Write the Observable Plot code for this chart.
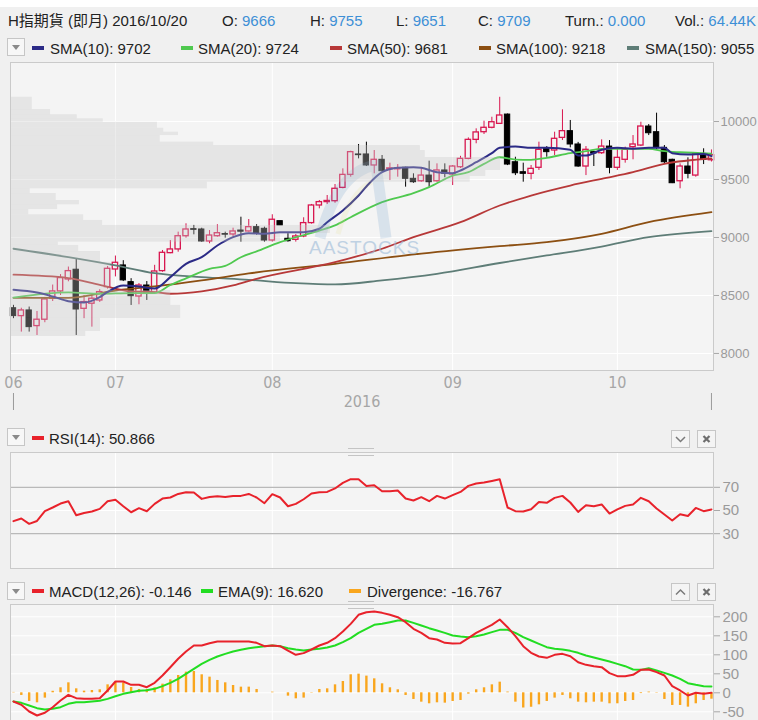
<!DOCTYPE html>
<html><head><meta charset="utf-8">
<script src="https://cdn.jsdelivr.net/npm/d3@7"></script>
<script src="https://cdn.jsdelivr.net/npm/@observablehq/plot@0.6"></script>
<style>
body{margin:0;background:#f0f0f0;}
#root{position:relative;width:758px;height:720px;overflow:hidden;background:#f0f0f0;font-family:"Liberation Sans",Arial,"Noto Sans CJK TC",sans-serif;}
.abs{position:absolute;}
.t{position:absolute;font-size:15px;line-height:15px;color:#222;white-space:nowrap;}
.v{color:#3d8fd6;}
.dash{position:absolute;width:12px;height:4px;}
.dd{position:absolute;width:16px;height:16px;border:1px solid #c6c6c6;background:#f7f7f7;}
.dd:after{content:"";position:absolute;left:4px;top:6px;border-left:4px solid transparent;border-right:4px solid transparent;border-top:5px solid #8a8a8a;}
.btn{position:absolute;width:17px;height:16px;border:1px solid #c6c6c6;background:#f4f4f4;}
.hl{position:absolute;width:26px;height:1px;background:#c4c4c4;}
svg{display:block;}
</style></head>
<body><div id="root"></div>
<script>
// ---------- data ----------
const monthIdx = [0, 13, 33, 56, 77];
const monthLabels = ["06", "07", "08", "09", "10"];
const yearSpan = [0, 89];
const yearLabel = ["2016"];
const priceTicks = [8000, 8500, 9000, 9500, 10000];
const rsiTicks = [30, 50, 70];
const rsiLevels = [30, 70];
const macdTicks = [-50, 0, 50, 100, 150, 200];

const open = [8390,8322,8371,8236,8291,8472,8535,8638,8722,8385,8429,8457,8572,8724,8759,8615,8491,8586,8523,8710,
  8865,8897,9011,9072,9069,8966,9011,9030,9026,9060,9052,9089,9075,8974,9141,8989,8980,9009,9124,9276,
  9305,9313,9428,9540,9716,9716,9621,9670,9588,9588,9601,9506,9485,9534,9485,9578,9543,9606,9678,9842,
  9908,9946,9980,10060,9649,9563,9549,9601,9765,9750,9859,9917,9802,9612,9736,9727,9784,9601,9670,9779,
  9793,9957,9908,9773,9670,9485,9612,9534,9721,9666];
const high = [8415,8390,8400,8362,8483,8590,8680,8745,8816,8500,8500,8550,8750,8840,8800,8645,8603,8620,8760,8888,
  8974,9046,9118,9104,9080,9060,9110,9046,9080,9175,9155,9110,9089,9196,9141,9032,9026,9170,9285,9319,
  9362,9457,9592,9744,9802,9822,9750,9707,9641,9629,9606,9549,9601,9658,9635,9635,9621,9700,9859,9937,
  10003,10037,10209,10065,9692,9641,9621,9822,9784,9908,10101,10009,9820,9784,9744,9842,9836,9773,9779,9879,
  9994,9974,10072,9793,9675,9635,9687,9727,9765,9755];
const low = [8300,8184,8184,8155,8265,8448,8500,8618,8155,8300,8227,8440,8555,8660,8620,8414,8420,8457,8515,8700,
  8860,8873,8994,9023,8960,8946,9003,8994,9003,8960,9046,9020,8960,8960,9104,8960,8960,8998,9115,9247,
  9285,9296,9420,9520,9678,9612,9549,9563,9491,9520,9434,9468,9477,9434,9477,9515,9448,9595,9670,9808,
  9888,9937,9975,9620,9534,9477,9497,9578,9692,9707,9836,9773,9605,9534,9612,9716,9549,9578,9641,9670,
  9784,9879,9750,9629,9465,9420,9506,9520,9629,9651];
const close = [8322,8371,8227,8291,8466,8535,8650,8710,8379,8443,8472,8529,8730,8782,8630,8494,8586,8523,8707,8868,
  8897,9011,9069,9066,8966,9017,9037,9024,9052,9050,9089,9032,8974,9153,9104,8968,9009,9124,9276,9305,
  9315,9420,9540,9736,9710,9621,9670,9572,9596,9595,9506,9477,9534,9477,9578,9549,9612,9678,9842,9906,
  9946,9994,10052,9629,9554,9549,9592,9756,9736,9851,9917,9802,9612,9756,9724,9784,9601,9687,9756,9802,
  9957,9899,9773,9649,9468,9612,9549,9721,9670,9709];

const sma10Idx = [0,3,5,7,9,11,12,14,16,18,20,22,24,26,28,30,32,34,37,39,40,42,44,45,47,49,51,52,54,56,57,59,61,62,64,66,68,71,72,73,75,77,79,81,83,84,86,88,89];
const sma10 = [8549,8525,8491,8451,8440,8486,8530,8586,8578,8560,8658,8773,8830,8931,9003,9037,9032,9046,9046,9075,9132,9233,9362,9440,9563,9601,9606,9601,9563,9554,9578,9649,9727,9773,9784,9773,9773,9756,9707,9707,9756,9773,9765,9773,9773,9727,9716,9721,9702];
const sma20Idx = [0,7,11,15,18,20,22,25,27,29,31,34,39,41,43,47,51,53,56,58,60,62,64,66,68,71,73,75,79,81,83,85,89];
const sma20 = [8482,8527,8515,8520,8520,8590,8648,8730,8755,8830,8880,8960,9060,9104,9175,9305,9382,9434,9534,9563,9635,9692,9672,9670,9687,9727,9744,9765,9765,9765,9744,9735,9724];
const sma50Idx = [0,7,11,15,18,20,24,28,31,41,47,51,57,62,66,71,75,79,83,89];
const sma50 = [8679,8650,8592,8535,8529,8515,8535,8586,8644,8787,8903,9003,9132,9276,9362,9448,9506,9563,9635,9681];
const sma100Idx = [0,7,13,18,24,30,41,52,62,68,75,81,89];
const sma100 = [8480,8480,8543,8578,8630,8690,8773,8860,8925,8960,9032,9132,9218];
const sma150Idx = [0,7,13,18,24,30,36,41,47,54,62,68,75,81,89];
const sma150 = [8903,8830,8759,8692,8658,8635,8606,8595,8630,8687,8780,8845,8922,9003,9055];

// price-by-volume profile (price band low/high, relative volume 0-100)
const profLo  = [8147,8190,8302,8414,8543,8785,8879,8931,8960,9035,9104,9147,9196,9241,9282,9319,9379,9420,9477,9526,9578,9690,9750,9793,9822,9879,9908,9942,9994,10023,10058,10103];
const profHi  = [8190,8302,8414,8543,8785,8879,8931,8960,9035,9104,9147,9196,9241,9282,9319,9379,9420,9477,9526,9578,9690,9750,9793,9822,9879,9908,9942,9994,10023,10058,10103,10209];
const profVol = [10.7,12.8,24.2,22.8,14.2,12.8,9.7,6.8,38.4,45.5,13.1,10.4,2.6,6.7,9.8,6.5,2.8,28,65.4,67.6,69.7,59,58.3,28.9,21.3,23.9,21.8,20.9,13.2,9.5,5.7,3.1];

const rsi = [40.8,43.1,38.5,41.0,49.4,52.6,56.0,58.0,45.9,47.9,49.1,51.4,58.0,59.2,53.7,48.5,52.0,49.4,55.7,60.3,
  61.2,64.3,65.8,65.5,60.0,61.7,62.3,61.7,62.6,62.6,64.3,61.2,56.3,64.1,61.2,53.7,55.7,59.7,64.7,65.8,
  66.0,69.0,73.8,77.0,77.0,71.2,71.8,66.6,66.6,67.2,60.3,58.6,61.5,58.0,62.6,60.3,63.2,66.0,71.2,73.3,
  74.1,75.5,77.0,52.6,49.4,49.1,51.1,57.4,56.6,60.9,62.6,56.9,48.8,54.6,53.7,55.2,47.4,50.9,54.0,55.2,
  60.9,58.0,51.7,46.6,41.4,46.8,45.3,52.2,49.4,50.9];
const macd = [-22.9,-31.6,-49.2,-59.7,-52.6,-37.9,-20.3,-5.3,-14.2,-15.8,-15.8,-14.2,6.1,29.7,29.7,21,21,14.8,26.3,45.5,
  67.4,89.5,108.7,124.5,124.5,130.6,135,135,135,135,135,131.6,122.8,124.5,122.8,111.3,100,104.4,114,124.5,
  131.6,143.8,161.3,181.5,205.3,212.1,214,210.4,205.3,199,185.9,168.3,157.8,143.8,140.3,131.5,129.7,130.6,143.8,157.8,
  168.3,178.9,192.9,172.7,149,122.7,105.2,95.5,92,99.9,102.5,96.4,80.6,73.6,70.1,67.5,51.7,43.8,43.8,47.3,
  60.4,61.3,54.3,45.5,17.5,6.1,-7.1,0,-2.6,-0.1];
const ema9 = [-22.9,-26.4,-33.4,-40.4,-43.9,-42.2,-37.8,-29.0,-24.6,-24.6,-22.9,-21.1,-15.9,-8.9,-2.7,1.7,5.2,6.9,10.4,17.5,
  26.2,36.8,49.9,63.1,76.2,86.8,95.5,102.5,108.7,113.1,117.5,120.1,122.7,124.5,122.7,117.5,114.0,111.3,114.0,115.7,
  119.2,124.5,133.2,143.8,157.8,168.3,178.9,181.5,185.9,190.3,190.3,184.1,177.1,170.1,163.9,157.8,150.8,148.2,146.4,149,
  153.4,159.6,165.7,165.7,157.8,146.4,137.6,128.9,120.1,115.7,114,110.4,105.2,98.2,92.9,87.6,82.4,76.2,70.1,61.3,
  60.4,64.8,58.7,52.5,45.5,36.8,25.3,21,17.5,16.6];
const divergence = [1,-7,-22.8,-26.3,-14,4,13.2,26.3,10.5,4.4,6.1,7.9,21,28,26.3,14,8.8,8.8,13.2,22.8,
  34.2,45.6,54.4,56.1,47.4,41.2,32.5,26.3,19.3,14.9,14.9,8.8,0,1.8,0,-8.8,-15.8,-14,-1,8.8,
  10.5,21,29.8,47.4,49.1,43.9,36.8,23.7,13.2,7.9,-7,-17.5,-24.6,-28.9,-26.3,-27.2,-22.8,-20.2,-3.5,7.9,
  13.2,21,28,2,-24.6,-40,-38,-31.6,-22.8,-14,-7,-15.8,-24.6,-26.3,-24.6,-24.6,-28.9,-28.9,-22.8,-20.2,
  -2,2,-1,-17.5,-33.3,-33.3,-37.7,-28.9,-20.2,-16.8];

// ---------- helpers ----------
const W = 758;
const XD = [-0.38, 89.26];
const ML = 10, MR = 45;
const BG = "#f4f4f4", GRID = "#ffffff", FRAME = "#cacaca";
const UP = "#d8164f", DOWN = "#000000";
const C = {s10:"#2b2a86", s20:"#4fc94f", s50:"#b73838", s100:"#8c4f12", s150:"#5e7d77",
           rsi:"#e8222b", macd:"#e8222b", ema:"#22dd22", div:"#f9a61e"};
const narrow = "'Liberation Sans Narrow','DejaVu Sans Condensed','Liberation Sans',sans-serif";
const sans = "'Liberation Sans',Arial,sans-serif";
const candles = open.map((o, i) => ({i, o, h: high[i], l: low[i], c: close[i]}));
const ups = candles.filter(d => d.c >= d.o), downs = candles.filter(d => d.c < d.o);
const series = (idx, vals) => idx.map((x, k) => ({x, y: vals[k]}));
const perBar = vals => vals.map((y, x) => ({x, y}));
const profile = profLo.map((lo, k) => ({lo, hi: profHi[k], vol: profVol[k]}));
const monthLab = new Map(monthIdx.map((d, k) => [d, monthLabels[k]]));
const gridMonths = monthIdx.slice(1);
const baseStyle = {background: "transparent", color: "#9a9a9a", fontFamily: sans, fontSize: "14px"};

const root = document.getElementById("root");
function place(el, top, left = 0) { el.style.position = "absolute"; el.style.top = top + "px"; el.style.left = left + "px"; root.appendChild(el); return el; }
function html(s) { const d = document.createElement("div"); d.innerHTML = s; while (d.firstChild) root.appendChild(d.firstChild); }
const yAxis = (ticks, size, len, pad) => Plot.axisY(ticks, {anchor: "right", label: null, tickSize: len, tickPadding: pad, tickFormat: d => String(d), stroke: "#a8a8a8", fill: "#9a9a9a", fontSize: size});

// ---------- main price panel ----------
const mainH = 340, mainTop = 55;
place(Plot.plot({
  width: W, height: mainH, marginTop: 7, marginBottom: 25, marginLeft: ML, marginRight: MR,
  style: baseStyle,
  x: {domain: XD, axis: null}, y: {domain: [7853, 10509], axis: null},
  color: {domain: ["up", "down"], range: [UP, DOWN]},
  marks: [
    Plot.frame({fill: BG, stroke: null}),
    Plot.gridY(priceTicks, {stroke: GRID, strokeOpacity: 1}),
    Plot.gridX(gridMonths, {stroke: GRID, strokeOpacity: 1}),
    yAxis(priceTicks, 13, 5, 2),
    Plot.axisX(monthIdx, {anchor: "bottom", label: null, tickSize: 0, tickPadding: 6, tickFormat: d => monthLab.get(d), fill: "#a6a6a6", fontSize: 16, fontFamily: narrow}),
    Plot.ruleX(candles, {x: "i", y1: "l", y2: "h", stroke: d => d.c >= d.o ? "up" : "down"}),
    Plot.rect(ups, {x1: d => d.i - 0.34, x2: d => d.i + 0.34, y1: "o", y2: "c", fill: BG, stroke: UP, strokeWidth: 1.3}),
    Plot.rect(downs, {x1: d => d.i - 0.34, x2: d => d.i + 0.34, y1: "o", y2: "c", fill: DOWN, stroke: DOWN, strokeWidth: 1}),
    Plot.line(series(sma150Idx, sma150), {x: "x", y: "y", stroke: C.s150, strokeWidth: 1.8, curve: "monotone-x"}),
    Plot.line(series(sma100Idx, sma100), {x: "x", y: "y", stroke: C.s100, strokeWidth: 1.8, curve: "monotone-x"}),
    Plot.line(series(sma50Idx, sma50), {x: "x", y: "y", stroke: C.s50, strokeWidth: 1.8, curve: "monotone-x"}),
    Plot.line(series(sma20Idx, sma20), {x: "x", y: "y", stroke: C.s20, strokeWidth: 1.8, curve: "monotone-x"}),
    Plot.line(series(sma10Idx, sma10), {x: "x", y: "y", stroke: C.s10, strokeWidth: 2, curve: "monotone-x"})
  ]
}), mainTop);

// watermark (faint logo shape + text)
html(`<svg class="abs" style="left:312px;top:160px;opacity:.2" width="84" height="80"><path d="M8,78 C18,40 34,10 64,5 L74,78" fill="none" stroke="#6f9cc8" stroke-width="11"/><path d="M26,74 C34,46 46,28 60,22" fill="none" stroke="#e6e29a" stroke-width="5"/></svg>
<div class="abs" style="left:309px;top:238px;font:19px ${sans};line-height:19px;letter-spacing:1px;color:#9dbbd8;opacity:.6">AASTOCKS</div>`);

// volume profile overlay (semi-transparent, over candles)
place(Plot.plot({
  width: W, height: mainH, marginTop: 7, marginBottom: 25, marginLeft: ML, marginRight: MR,
  style: baseStyle,
  x: {domain: [0, 100], axis: null}, y: {domain: [7853, 10509], axis: null},
  marks: [
    Plot.rectX(profile, {x: "vol", y1: "lo", y2: "hi", fill: "rgb(198,198,198)", fillOpacity: 0.34}),
    Plot.frame({stroke: FRAME})
  ]
}), mainTop);

// year strip
place(Plot.plot({
  width: W, height: 19, marginTop: 1, marginBottom: 1, marginLeft: ML, marginRight: MR,
  style: baseStyle,
  x: {domain: XD, axis: null},
  marks: [
    Plot.ruleX(yearSpan, {stroke: "#9a9a9a", strokeWidth: 1}),
    Plot.text(yearLabel, {frameAnchor: "middle", fill: "#a6a6a6", fontSize: 16, fontFamily: narrow})
  ]
}), 392);

// ---------- RSI panel ----------
place(Plot.plot({
  width: W, height: 129, marginTop: 7, marginBottom: 6, marginLeft: ML, marginRight: MR,
  style: baseStyle,
  x: {domain: XD, axis: null}, y: {domain: [0, 100], axis: null},
  marks: [
    Plot.frame({fill: BG, stroke: null}),
    Plot.gridY([50], {stroke: GRID, strokeOpacity: 1}),
    Plot.gridX(gridMonths, {stroke: GRID, strokeOpacity: 1}),
    Plot.ruleY(rsiLevels, {stroke: "#b9b9b9", strokeWidth: 1.3}),
    yAxis(rsiTicks, 15, 6, 3),
    Plot.line(perBar(rsi), {x: "x", y: "y", stroke: C.rsi, strokeWidth: 2}),
    Plot.frame({stroke: FRAME})
  ]
}), 445);

// ---------- MACD panel ----------
place(Plot.plot({
  width: W, height: 135, marginTop: 7, marginBottom: 5, marginLeft: ML, marginRight: MR,
  style: baseStyle,
  x: {domain: XD, axis: null}, y: {domain: [-91.3, 232.4], axis: null},
  marks: [
    Plot.frame({fill: BG, stroke: null}),
    Plot.gridY(macdTicks, {stroke: GRID, strokeOpacity: 1}),
    Plot.gridX(gridMonths, {stroke: GRID, strokeOpacity: 1}),
    yAxis(macdTicks, 15, 6, 3),
    Plot.ruleX(perBar(divergence), {x: "x", y1: 0, y2: "y", stroke: C.div, strokeWidth: 2.4}),
    Plot.line(perBar(ema9), {x: "x", y: "y", stroke: C.ema, strokeWidth: 2}),
    Plot.line(perBar(macd), {x: "x", y: "y", stroke: C.macd, strokeWidth: 2}),
    Plot.frame({stroke: FRAME})
  ]
}), 597);

// ---------- header & legends ----------
const chevDown = `<svg width="17" height="16"><polyline points="4,6 8.5,10.5 13,6" fill="none" stroke="#7a7a7a" stroke-width="1.5"/></svg>`;
const chevUp = `<svg width="17" height="16"><polyline points="4,10.5 8.5,6 13,10.5" fill="none" stroke="#7a7a7a" stroke-width="1.5"/></svg>`;
const cross = `<svg width="17" height="16"><path d="M5.5,5 L11.5,11 M11.5,5 L5.5,11" stroke="#6e6e6e" stroke-width="2.2"/></svg>`;
html(`<div class="abs" style="left:0;top:0;width:758px;height:7px;background:#fff"></div>
<div class="t" style="left:8px;top:13px">H指期貨 (即月) 2016/10/20</div>
<div class="t" style="left:222px;top:13px">O: <span class="v">9666</span></div>
<div class="t" style="left:310px;top:13px">H: <span class="v">9755</span></div>
<div class="t" style="left:396px;top:13px">L: <span class="v">9651</span></div>
<div class="t" style="left:478px;top:13px">C: <span class="v">9709</span></div>
<div class="t" style="left:565px;top:13px">Turn.: <span class="v">0.000</span></div>
<div class="t" style="left:675px;top:13px">Vol.: <span class="v">64.44K</span></div>
<div class="dd" style="left:7px;top:38px"></div>
<div class="dash" style="left:32px;top:46px;background:${C.s10}"></div><div class="t" style="left:50px;top:41px">SMA(10): 9702</div>
<div class="dash" style="left:181px;top:46px;background:${C.s20}"></div><div class="t" style="left:198px;top:41px">SMA(20): 9724</div>
<div class="dash" style="left:330px;top:46px;background:${C.s50}"></div><div class="t" style="left:347px;top:41px">SMA(50): 9681</div>
<div class="dash" style="left:479px;top:46px;background:${C.s100}"></div><div class="t" style="left:496px;top:41px">SMA(100): 9218</div>
<div class="dash" style="left:627px;top:46px;background:${C.s150}"></div><div class="t" style="left:645px;top:41px">SMA(150): 9055</div>

<div class="dd" style="left:7px;top:428px"></div>
<div class="dash" style="left:32px;top:436px;background:${C.rsi}"></div><div class="t" style="left:49px;top:431px">RSI(14): 50.866</div>
<div class="btn" style="left:671px;top:430px">${chevDown}</div>
<div class="btn" style="left:697px;top:430px">${cross}</div>
<div class="hl" style="left:348px;top:448px"></div><div class="hl" style="left:348px;top:455px"></div>

<div class="dd" style="left:7px;top:582px"></div>
<div class="dash" style="left:32px;top:589px;background:${C.macd}"></div><div class="t" style="left:49px;top:584px">MACD(12,26): -0.146</div>
<div class="dash" style="left:201px;top:589px;background:${C.ema}"></div><div class="t" style="left:218px;top:584px">EMA(9): 16.620</div>
<div class="dash" style="left:349px;top:589px;background:${C.div}"></div><div class="t" style="left:367px;top:584px">Divergence: -16.767</div>
<div class="btn" style="left:671px;top:583px">${chevUp}</div>
<div class="btn" style="left:697px;top:583px">${cross}</div>
<div class="hl" style="left:348px;top:601px"></div><div class="hl" style="left:348px;top:608px"></div>`);
</script>
</body></html>
